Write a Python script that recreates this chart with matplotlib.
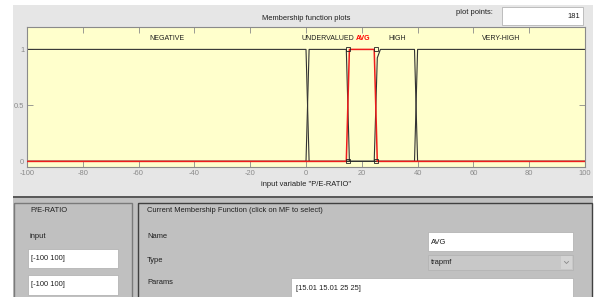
import numpy as np
import matplotlib
matplotlib.use("Agg")
import matplotlib.pyplot as plt
from matplotlib.patches import Rectangle

plt.rcParams['font.family'] = ['Liberation Sans', 'DejaVu Sans']
plt.rcParams['axes.unicode_minus'] = False

# membership functions of the input "P/E-RATIO"
mf_names = ['NEGATIVE', 'UNDERVALUED', 'AVG', 'HIGH', 'VERY-HIGH']
mf_params = [[-100, -100, 0, 0.5],
             [0.5, 1.1, 15, 15.01],
             [15.01, 15.01, 25, 25],
             [25.01, 25.6, 39.99, 40],
             [40, 40, 100, 100]]
selected = 'AVG'
x_range = [-100, 100]
n_points = 181
x_ticks = [-100, -80, -60, -40, -20, 0, 20, 40, 60, 80, 100]
y_ticks = [0, 0.5, 1]


def trapmf(x, p):
    a, b, c, d = p
    left = np.where(x >= b, 1.0, 0.0) if b == a else (x - a) / (b - a)
    right = np.where(x <= c, 1.0, 0.0) if d == c else (d - x) / (d - c)
    return np.clip(np.minimum(np.minimum(left, right), 1), 0, 1)


W, H = 597, 297
fig = plt.figure(figsize=(W / 100, H / 100), dpi=100)
fig.patch.set_facecolor('white')

# background drawn in pixel coordinates
bg = fig.add_axes([0, 0, 1, 1])
bg.set_xlim(0, W)
bg.set_ylim(H, 0)
bg.axis('off')

bg.add_patch(Rectangle((13, 5), 580, 192, fc='#e6e6e6', ec='none'))
bg.add_patch(Rectangle((13, 196), 580, 2, fc='#5a5a5a', ec='none'))
bg.add_patch(Rectangle((13, 198), 580, 100, fc='#c0c0c0', ec='none'))
# panels
bg.add_patch(Rectangle((14, 203), 118, 100, fc='none', ec='#7a7a7a', lw=1))
bg.add_patch(Rectangle((138, 203), 454, 100, fc='none', ec='#404040', lw=1))

fs = 5.4
tc = '#1e1e1e'
def box(x, y, w, h, fc='white'):
    bg.add_patch(Rectangle((x, y), w, h, fc=fc, ec='#b4b4b4', lw=0.6))

# plot points
bg.text(493, 13, 'plot points:', ha='right', va='center', fontsize=fs, color=tc)
box(502, 7, 81, 18)
bg.text(580, 16, str(n_points), ha='right', va='center', fontsize=fs, color=tc)

bg.text(306, 18, 'Membership function plots', ha='center', va='center', fontsize=fs, color=tc)
bg.text(306, 184, 'input variable "P/E-RATIO"', ha='center', va='center', fontsize=fs, color=tc)

# left panel
bg.text(30, 211, 'P/E-RATIO', ha='left', va='center', fontsize=fs, color=tc)
bg.text(30, 237, 'input', ha='left', va='center', fontsize=fs, color=tc)
box(28, 249, 90, 19)
bg.text(31, 258.5, '[-100 100]', ha='left', va='center', fontsize=fs, color=tc)
box(28, 275, 90, 20)
bg.text(31, 285, '[-100 100]', ha='left', va='center', fontsize=fs, color=tc)

# right panel
bg.text(147, 211, 'Current Membership Function (click on MF to select)', ha='left', va='center',
        fontsize=fs, color=tc)
bg.text(147, 237, 'Name', ha='left', va='center', fontsize=fs, color=tc)
bg.text(147, 260, 'Type', ha='left', va='center', fontsize=fs, color=tc)
bg.text(147, 283, 'Params', ha='left', va='center', fontsize=fs, color=tc)
box(428, 232, 145, 19)
bg.text(431, 242, selected, ha='left', va='center', fontsize=fs, color=tc)
box(428, 255, 145, 15, fc='#c8c8c8')
bg.text(431, 263, 'trapmf', ha='left', va='center', fontsize=fs, color=tc)
bg.add_patch(Rectangle((561, 256), 11, 13, fc='#d4d4d4', ec='none'))
bg.plot([564.5, 566.5, 568.5], [261.5, 263.5, 261.5], color='#888888', lw=0.6)
box(291, 278, 282, 22)
sel_params = mf_params[mf_names.index(selected)]
bg.text(296, 288, '[' + ' '.join('%g' % v for v in sel_params) + ']', ha='left', va='center',
        fontsize=fs, color=tc)

# membership function plot
ax = fig.add_axes([27 / W, 1 - 167 / H, 558 / W, 140 / H])
ax.set_facecolor('#ffffcc')
x = np.linspace(x_range[0], x_range[1], n_points)
mf_fs = 5.0
for name, p in zip(mf_names, mf_params):
    if name == selected:
        continue
    ax.plot(x, trapmf(x, p), color='#333333', lw=0.8, zorder=2)
    ax.text((p[0] + p[3]) / 2, 1.1, name, ha='center', va='center', fontsize=mf_fs, color=tc)

p = sel_params
ax.plot(x, trapmf(x, p), color='#ee1c1c', lw=1.1, zorder=3)
ax.text((p[0] + p[3]) / 2 + 0.4, 1.1, selected, ha='center', va='center', fontsize=mf_fs,
        color='red', fontweight='bold')
ax.plot([p[0], p[3], p[0], p[3]], [1, 1, 0, 0], ls='none', marker='s', ms=3.5,
        mfc='none', mec='#222222', mew=0.6, zorder=4)

ax.set_xlim(x_range)
ax.set_ylim(-0.05, 1.2)
ax.set_xticks(x_ticks)
ax.set_yticks(y_ticks)
ax.set_yticklabels(['0', '0.5', '1'])
ax.tick_params(direction='in', length=4, width=0.6, colors='#8a8a8a', labelsize=fs,
               top=True, right=True, pad=2)
for s in ax.spines.values():
    s.set_color('#8a8a8a')
    s.set_linewidth(0.8)

fig.savefig('out.png', dpi=100, facecolor=fig.get_facecolor())
